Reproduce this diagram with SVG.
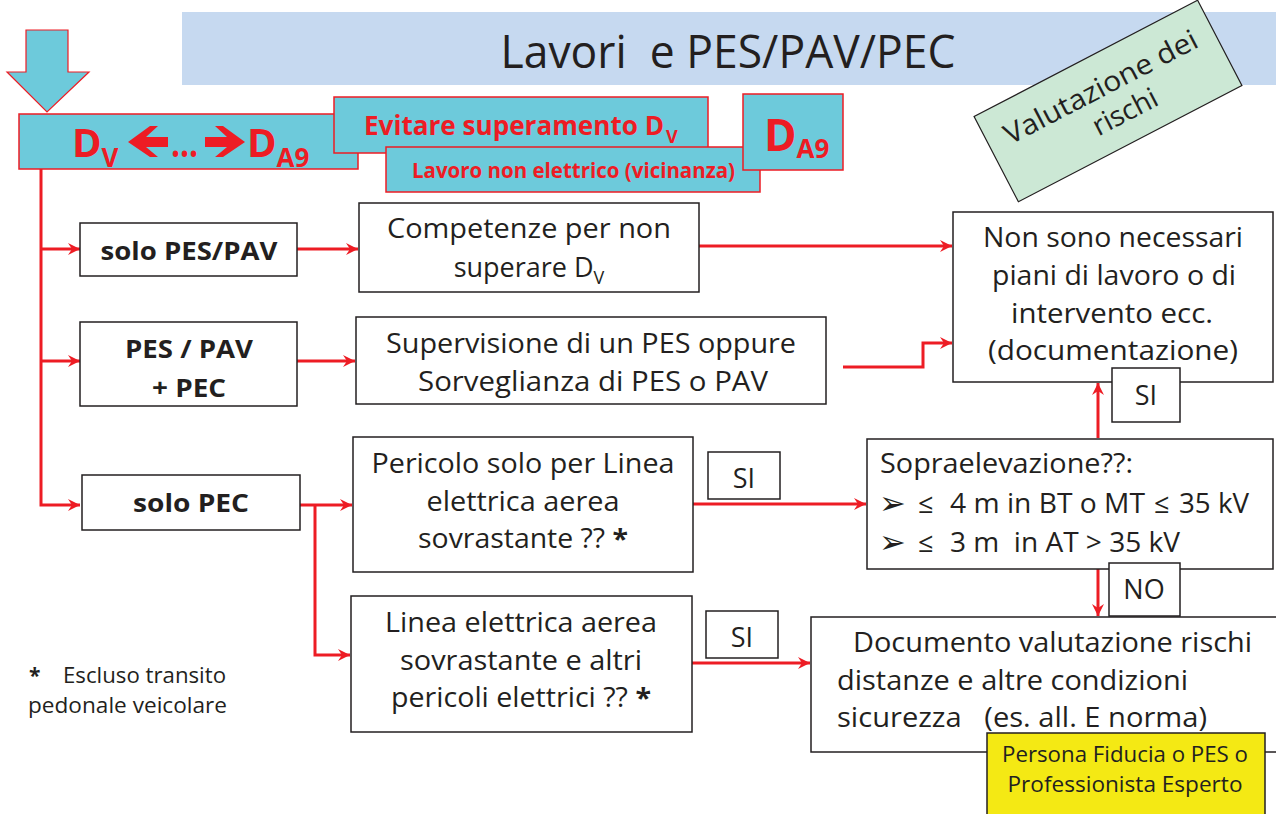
<svg xmlns="http://www.w3.org/2000/svg" width="1276" height="814" viewBox="0 0 1276 814">
<style>
.box{fill:#fff;stroke:#231f20;stroke-width:1.5}
.cy{fill:#6dcadb;stroke:#ed1c24;stroke-width:1.5}
.t{font-family:"Open Sans","Noto Sans",sans-serif;fill:#231f20;font-size:27px}
.m{text-anchor:middle}
.b{font-weight:bold}
.r{fill:#ed1c24}
.c{stroke:#ed1c24;stroke-width:3;fill:none}
.pre{white-space:pre}
.blt{font-family:"DejaVu Sans",sans-serif;font-size:32px;fill:#231f20}
</style>
<defs>
<marker id="ah" markerUnits="userSpaceOnUse" markerWidth="14" markerHeight="12" refX="12" refY="6" orient="auto">
<path d="M0,0 L12,6 L0,12 L4,6 z" fill="#ed1c24"/>
</marker>
</defs>

<g id="title">
<rect x="182" y="12" width="1094" height="73" fill="#c6d9f0"/>
<text class="t pre" x="728" y="68" text-anchor="middle" style="font-size:46px" textLength="455" lengthAdjust="spacingAndGlyphs">Lavori  e PES/PAV/PEC</text>
</g>

<g id="valutazione">
<g transform="translate(1108,101) rotate(-27.5)">
<rect x="-126" y="-48" width="252" height="96" fill="#cce8d5" stroke="#231f20" stroke-width="1.2"/>
<text class="t m" x="0" y="-6" style="font-size:28px" textLength="214" lengthAdjust="spacingAndGlyphs">Valutazione dei</text>
<text class="t m" x="10" y="27" style="font-size:28px">rischi</text>
</g>
</g>

<g id="inputArrow">
<path d="M26,30 H68 V72 H89 L47,112 L7,72 H26 Z" fill="#6dcadb" stroke="#ed1c24" stroke-width="1.2"/>
</g>

<g id="dvBox">
<rect class="cy" x="19" y="114" width="339" height="55"/>
<text class="t b r" x="72" y="157" style="font-size:40px">D<tspan font-size="26" dy="10">V</tspan></text>
<path d="M128,142 L150,126 L158,126 L146,137 H168 V147 H146 L158,157 L150,157 Z" fill="#ed1c24"/>
<text class="t b r" x="171" y="157" style="font-size:40px" textLength="27" lengthAdjust="spacingAndGlyphs">...</text>
<path d="M245,142 L223,126 L215,126 L227,137 H205 V147 H227 L215,157 L223,157 Z" fill="#ed1c24"/>
<text class="t b r" x="247" y="157" style="font-size:40px">D<tspan font-size="26" dy="10">A9</tspan></text>
</g>

<g id="evitare">
<rect class="cy" x="334" y="97" width="374" height="56"/>
<text class="t b r" x="364" y="135" style="font-size:26px" textLength="300" lengthAdjust="spacingAndGlyphs">Evitare superamento D</text>
<text class="t b r" x="666" y="143" style="font-size:18px">V</text>
</g>

<g id="lavoro">
<rect class="cy" x="386" y="147" width="374" height="45"/>
<text class="t b r" x="412" y="178" style="font-size:21px" textLength="323" lengthAdjust="spacingAndGlyphs">Lavoro non elettrico (vicinanza)</text>
</g>

<g id="da9">
<rect class="cy" x="743" y="94" width="100" height="76"/>
<text class="t b r" x="764" y="151" style="font-size:44px">D<tspan font-size="26" dy="7">A9</tspan></text>
</g>

<g id="connectors">
<path class="c" d="M41,169 V505 H80" marker-end="url(#ah)"/>
<path class="c" d="M41,249 H80" marker-end="url(#ah)"/>
<path class="c" d="M41,361 H80" marker-end="url(#ah)"/>
<path class="c" d="M297,249 H358" marker-end="url(#ah)"/>
<path class="c" d="M699,246 H952" marker-end="url(#ah)"/>
<path class="c" d="M297,361 H355" marker-end="url(#ah)"/>
<path class="c" d="M843,367 H923 V343 H952" marker-end="url(#ah)"/>
<path class="c" d="M297,505 H352" marker-end="url(#ah)"/>
<path class="c" d="M315,505 V655 H350" marker-end="url(#ah)"/>
<path class="c" d="M693,504 H866" marker-end="url(#ah)"/>
<path class="c" d="M692,663 H810" marker-end="url(#ah)"/>
<path class="c" d="M1098,438 V383" marker-end="url(#ah)"/>
<path class="c" d="M1098,569 V616" marker-end="url(#ah)"/>
</g>

<g id="soloPesPav">
<rect class="box" x="80" y="223" width="217" height="53"/>
<text class="t b m" x="189" y="260" style="font-size:25px" textLength="177" lengthAdjust="spacingAndGlyphs">solo PES/PAV</text>
</g>

<g id="pesPavPec">
<rect class="box" x="80" y="322" width="217" height="84"/>
<text class="t b m" x="189" y="358" style="font-size:25px" textLength="128" lengthAdjust="spacingAndGlyphs">PES / PAV</text>
<text class="t b m" x="189" y="397" style="font-size:25px" textLength="74" lengthAdjust="spacingAndGlyphs">+ PEC</text>
</g>

<g id="soloPec">
<rect class="box" x="82" y="475" width="218" height="55"/>
<text class="t b m" x="191" y="512" style="font-size:25px" textLength="116" lengthAdjust="spacingAndGlyphs">solo PEC</text>
</g>

<g id="competenze">
<rect class="box" x="359" y="203" width="340" height="89"/>
<text class="t m" x="529" y="238" textLength="284" lengthAdjust="spacingAndGlyphs">Competenze per non</text>
<text class="t m" x="529" y="277">superare D<tspan font-size="18" dy="7">V</tspan></text>
</g>

<g id="supervisione">
<rect class="box" x="356" y="317" width="470" height="87"/>
<text class="t m" x="591" y="353" textLength="410" lengthAdjust="spacingAndGlyphs">Supervisione di un PES oppure</text>
<text class="t m" x="593" y="391" textLength="350" lengthAdjust="spacingAndGlyphs">Sorveglianza di PES o PAV</text>
</g>

<g id="nonSono">
<rect class="box" x="953" y="212" width="320" height="170"/>
<text class="t m" x="1113" y="247" textLength="260" lengthAdjust="spacingAndGlyphs">Non sono necessari</text>
<text class="t m" x="1114" y="285" textLength="244" lengthAdjust="spacingAndGlyphs">piani di lavoro o di</text>
<text class="t m" x="1112" y="323" textLength="202" lengthAdjust="spacingAndGlyphs">intervento ecc.</text>
<text class="t m" x="1113" y="360" textLength="250" lengthAdjust="spacingAndGlyphs">(documentazione)</text>
</g>

<g id="pericolo">
<rect class="box" x="353" y="437" width="340" height="135"/>
<text class="t m" x="523" y="473" textLength="303" lengthAdjust="spacingAndGlyphs">Pericolo solo per Linea</text>
<text class="t m" x="523" y="511" textLength="193" lengthAdjust="spacingAndGlyphs">elettrica aerea</text>
<text class="t m" x="523" y="548" textLength="210" lengthAdjust="spacingAndGlyphs">sovrastante ?? <tspan font-weight="bold">*</tspan></text>
</g>

<g id="linea">
<rect class="box" x="351" y="596" width="341" height="136"/>
<text class="t m" x="521" y="632" textLength="272" lengthAdjust="spacingAndGlyphs">Linea elettrica aerea</text>
<text class="t m" x="521" y="670" textLength="242" lengthAdjust="spacingAndGlyphs">sovrastante e altri</text>
<text class="t m" x="521" y="707" textLength="260" lengthAdjust="spacingAndGlyphs">pericoli elettrici ?? <tspan font-weight="bold">*</tspan></text>
</g>

<g id="soprae">
<rect class="box" x="867" y="439" width="406" height="130"/>
<text class="t" x="880" y="473" textLength="253" lengthAdjust="spacingAndGlyphs">Sopraelevazione??:</text>
<text class="blt" x="879" y="514">➢</text>
<text class="t" x="918" y="513">≤</text>
<text class="t" x="950" y="513" textLength="195" lengthAdjust="spacingAndGlyphs">4 m in BT o MT</text>
<text class="t" x="1154" y="513">≤</text>
<text class="t" x="1179" y="513" textLength="70" lengthAdjust="spacingAndGlyphs">35 kV</text>
<text class="blt" x="879" y="553">➢</text>
<text class="t" x="918" y="552">≤</text>
<text class="t pre" x="950" y="552" textLength="230" lengthAdjust="spacingAndGlyphs">3 m  in AT &gt; 35 kV</text>
</g>

<g id="documento">
<rect class="box" x="811" y="617" width="470" height="135"/>
<text class="t" x="853" y="652" textLength="399" lengthAdjust="spacingAndGlyphs">Documento valutazione rischi</text>
<text class="t" x="837" y="690" textLength="351" lengthAdjust="spacingAndGlyphs">distanze e altre condizioni</text>
<text class="t pre" x="837" y="727" textLength="370" lengthAdjust="spacingAndGlyphs">sicurezza   (es. all. E norma)</text>
</g>

<g id="si1">
<rect class="box" x="708" y="452" width="72" height="47"/>
<text class="t m" x="744" y="488">SI</text>
</g>
<g id="si2">
<rect class="box" x="706" y="611" width="72" height="47"/>
<text class="t m" x="742" y="647">SI</text>
</g>
<g id="si3">
<rect class="box" x="1112" y="368" width="68" height="54"/>
<text class="t m" x="1146" y="405">SI</text>
</g>
<g id="no">
<rect class="box" x="1109" y="563" width="71" height="53"/>
<text class="t m" x="1144" y="599">NO</text>
</g>

<g id="persona">
<rect x="987" y="733" width="278" height="90" fill="#f4e914" stroke="#231f20" stroke-width="1.5"/>
<text class="t m" x="1125" y="762" style="font-size:21px" textLength="246" lengthAdjust="spacingAndGlyphs">Persona Fiducia o PES o</text>
<text class="t m" x="1125" y="792" style="font-size:21px" textLength="235" lengthAdjust="spacingAndGlyphs">Professionista Esperto</text>
</g>

<g id="nota">
<text class="t" x="29" y="683" style="font-size:21px"><tspan font-weight="bold">*</tspan><tspan x="63" textLength="163" lengthAdjust="spacingAndGlyphs">Escluso transito</tspan></text>
<text class="t" x="28" y="713" style="font-size:21px" textLength="199" lengthAdjust="spacingAndGlyphs">pedonale veicolare</text>
</g>
</svg>
